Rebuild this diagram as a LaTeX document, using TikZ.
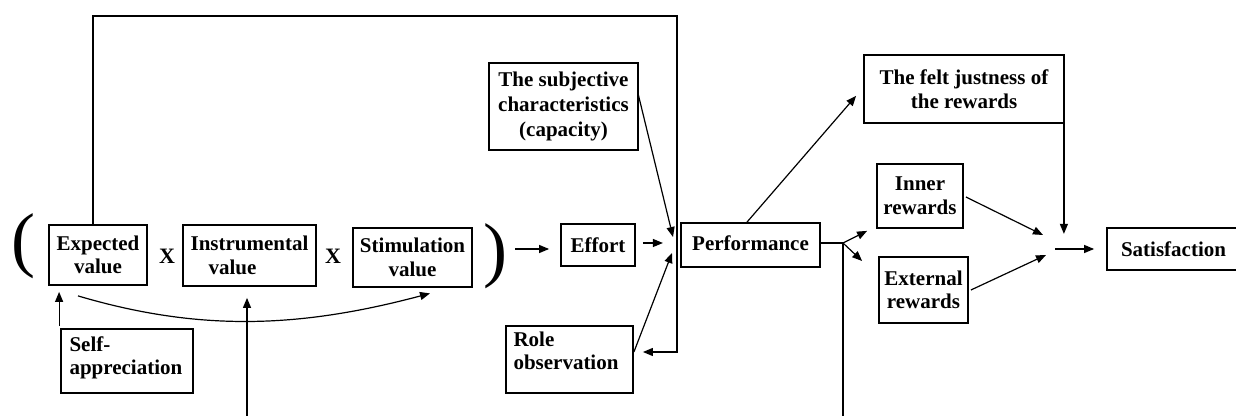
\documentclass[tikz,border=0pt]{standalone}
\usepackage{fontspec}
\setmainfont{Liberation Serif}
\usetikzlibrary{arrows.meta,calc}
\begin{document}
\begin{tikzpicture}[x=0.5pt,y=-0.5pt,
  box/.style={draw, line width=0.9pt, inner sep=1pt, align=center,
    font=\bfseries\fontsize{10.5}{11.8}\selectfont},
  txt/.style={inner sep=0pt, align=left, font=\bfseries\fontsize{10.5}{11.5}\selectfont},
  conn/.style={line width=0.6pt},
  arr/.style={conn, -{Triangle[length=5pt,width=4pt]}},
  paren/.style={inner sep=0pt, font=\fontsize{36}{36}\selectfont}]
\useasboundingbox (0,0) rectangle (1236,416);
\clip (0,0) rectangle (1236,416);
% boxes
\node[box, minimum width=49pt, minimum height=30pt] (exp) at (98,255) {Expected\\value};
\node[box, minimum width=66.5pt, minimum height=30.5pt, align=left] (inst) at (249.5,255.5) {Instrumental\\\hspace*{9pt}value};
\node[box, minimum width=59.5pt, minimum height=29.5pt] (stim) at (412.5,257.5) {Stimulation\\value};
\node[box, minimum width=66pt, minimum height=32pt,
  label={[txt, anchor=north west, xshift=4.5pt, yshift=-4pt]north west:{Self-\\appreciation}}] (self) at (127,361) {};
\node[box, minimum width=74.5pt, minimum height=43.5pt, font=\bfseries\fontsize{10.5}{12.5}\selectfont] (subj) at (563.5,106.5) {The subjective\\characteristics\\(capacity)};
\node[box, minimum width=37pt, minimum height=21pt] (effort) at (598,245) {Effort};
\node[box, minimum width=63.5pt, minimum height=33.5pt,
  label={[txt, anchor=north west, xshift=4pt, yshift=-3pt]north west:{Role\\observation}}] (role) at (569.5,359.5) {};
\node[box, minimum width=69.5pt, minimum height=22pt] (perf) at (750.5,245) {\raisebox{1.5pt}{Performance}};
\node[box, minimum width=100pt, minimum height=34pt] (felt) at (964,89) {The felt justness of\\the rewards};
\node[box, minimum width=43pt, minimum height=32pt] (inner) at (920,196) {Inner\\rewards};
\node[box, minimum width=44.5pt, minimum height=33pt] (ext) at (923.5,290) {External\\rewards};
\node[box, minimum width=66.5pt, minimum height=21pt] (sat) at (1173.5,249) {Satisfaction};
% symbols
\node[paren] (lp) at (23,246) {(};
\node[paren] (rp) at (495,256) {)};
\node[inner sep=0pt, font=\bfseries\fontsize{11}{11}\selectfont] (x1) at (167,256) {X};
\node[inner sep=0pt, font=\bfseries\fontsize{11}{11}\selectfont] (x2) at (333,256) {X};
% coordinates
\coordinate (topR) at (677,16);
\coordinate (roleIn) at (677,352);
\coordinate (instB) at (247,416);
\coordinate (B) at (843,243);
\coordinate (perfB) at (843,416);
% connectors
\draw[arr] ($(exp.north)+(-5,0)$) |- (topR) -- (roleIn) -- ($(role.east)+(9,-7.5)$);
\draw[arr] ($(self.north west)+(-1,-2)$) -- ($(exp.south west)+(11,6)$);
\draw[arr] ($(exp.south)+(-20,10)$) .. controls (200,332) and (300,328) .. ($(stim.south)+(17.5,5.5)$);
\draw[arr] (instB) -- ($(inst.south)+(-2.5,11)$);
\draw[arr] ($(rp.east)+(8,-7)$) -- ($(effort.west)+(-11,4)$);
\draw[arr] ($(effort.east)+(7,-2)$) -- ($(effort.east)+(27,-2)$);
\draw[arr] ($(subj.east)+(-1,-13.5)$) -- (673,237);
\draw[arr] ($(role.east)+(0,-7.5)$) -- (672,253);
\draw[arr] ($(perf.north)+(-3.5,0)$) -- ($(felt.south west)+(-7,-28)$);
\draw[conn] ($(perf.east)+(0,-2)$) -- (B);
\draw[conn] (B) -- (perfB);
\draw[arr] (B) -- ($(inner.south west)+(-9,2)$);
\draw[arr] (B) -- ($(ext.west)+(-16,-29)$);
\draw[arr] ($(felt.south east)+(-1,0)$) -- ($(felt.south east)+(-1,110)$);
\draw[arr] ($(inner.east)+(2,1)$) -- (1043,235);
\draw[arr] ($(ext.east)+(2,0)$) -- (1046,255);
\draw[arr] ($(sat.west)+(-51,0)$) -- ($(sat.west)+(-12,0)$);
\end{tikzpicture}
\end{document}
